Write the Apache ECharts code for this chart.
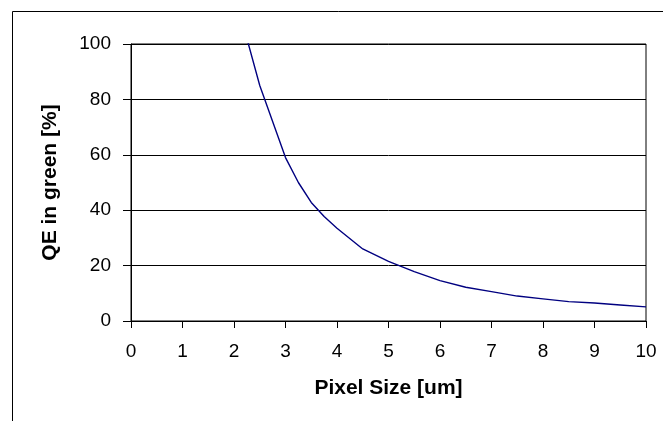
<!DOCTYPE html>
<html>
<head>
<meta charset="utf-8">
<script src="https://cdn.jsdelivr.net/npm/echarts@6/dist/echarts.min.js"></script>
<style>
html,body{margin:0;padding:0;background:#fff;}
#chart{width:663px;height:421px;}
</style>
</head>
<body>
<div id="chart"></div>
<script>
// Data
var pixelSize = [2.0, 2.5, 3.0, 3.25, 3.5, 3.75, 4.0, 4.5, 5.0, 5.5, 6.0, 6.5, 7.0, 7.5, 8.0, 8.5, 9.0, 9.5, 10.0];
var qeGreen   = [119, 85, 59, 50, 42.8, 37.7, 33.5, 26, 21.5, 17.8, 14.6, 12.2, 10.6, 9.0, 8.0, 7.0, 6.5, 5.8, 5.1];
var xTitle = 'Pixel Size [um]';
var yTitle = 'QE in green [%]';

var points = pixelSize.map(function (x, i) { return [x, qeGreen[i]]; });
var font = 'Liberation Sans, Arial, sans-serif';

var chart = echarts.init(document.getElementById('chart'), null, {renderer: 'canvas'});
chart.setOption({
  animation: false,
  backgroundColor: '#fff',
  graphic: [{
    type: 'rect', z: -1, silent: true,
    shape: {x: 12.5, y: 11.5, width: 800, height: 600},
    style: {fill: 'none', stroke: '#000', lineWidth: 1}
  }],
  grid: {
    left: 131, right: 17, top: 44, bottom: 100,
    show: true, borderColor: '#000', borderWidth: 1, backgroundColor: '#fff',
    containLabel: false
  },
  xAxis: {
    type: 'value', min: 0, max: 10, interval: 1,
    name: xTitle, nameLocation: 'middle', nameGap: 57,
    nameTextStyle: {fontFamily: font, fontSize: 21, fontWeight: 'bold', color: '#000'},
    axisLine: {show: true, lineStyle: {color: '#000', width: 1}},
    axisTick: {show: true, length: 7, lineStyle: {color: '#000'}},
    axisLabel: {fontFamily: font, fontSize: 19, color: '#000', margin: 21},
    splitLine: {show: false}
  },
  yAxis: {
    type: 'value', min: 0, max: 100, interval: 20,
    name: yTitle, nameLocation: 'middle', nameGap: 70,
    nameTextStyle: {fontFamily: font, fontSize: 21, fontWeight: 'bold', color: '#000'},
    axisLine: {show: true, lineStyle: {color: '#000', width: 1}},
    axisTick: {show: true, length: 8, lineStyle: {color: '#000'}},
    axisLabel: {fontFamily: font, fontSize: 19, color: '#000', margin: 20},
    splitLine: {show: true, lineStyle: {color: '#000', width: 1}}
  },
  series: [{
    type: 'line',
    data: points,
    showSymbol: false,
    clip: true,
    smooth: false,
    lineStyle: {color: '#000080', width: 1.4}
  }]
});
</script>
</body>
</html>
